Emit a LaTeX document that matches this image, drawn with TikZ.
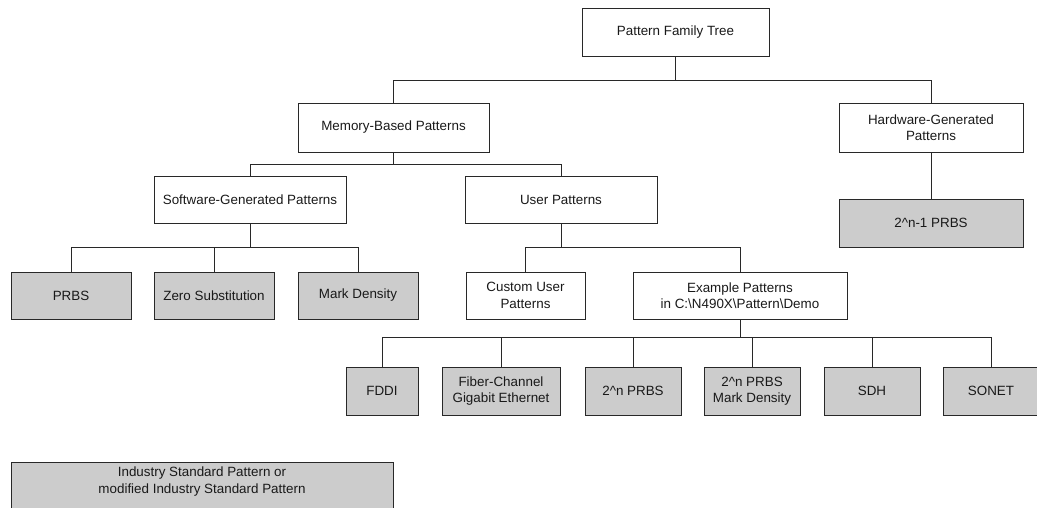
\documentclass[tikz,border=0pt]{standalone}
\usepackage{fontspec}
\setmainfont{Liberation Sans}
\definecolor{boxfill}{RGB}{204,204,204}
\definecolor{edge}{RGB}{40,40,40}
\begin{document}
\begin{tikzpicture}[x=1pt,y=-1pt,
  box/.style={draw=edge,line width=1pt,rectangle,inner sep=0pt,align=center,
    font=\fontsize{13.4}{16.5}\selectfont,text=black!90},
  gbox/.style={box,fill=boxfill},
  conn/.style={draw=edge,line width=1pt}]
\useasboundingbox (0,0) rectangle (1037,507);
% nodes
\node[box,minimum width=187pt,minimum height=48pt] (root) at (675.5,32) {Pattern Family Tree};
\node[box,minimum width=191pt,minimum height=49pt] (mem) at (393.5,127.5) {Memory-Based Patterns};
\node[box,minimum width=184pt,minimum height=49pt] (hw) at (931,127.5) {Hardware-Generated\\Patterns};
\node[gbox,minimum width=184pt,minimum height=48pt] (hwprbs) at (931,223) {2\^{}n-1 PRBS};
\node[box,minimum width=192pt,minimum height=47pt] (sw) at (250,199.5) {Software-Generated Patterns};
\node[box,minimum width=192pt,minimum height=47pt] (user) at (561,199.5) {User Patterns};
\node[gbox,minimum width=120pt,minimum height=47pt] (prbs) at (71,295.5) {PRBS};
\node[gbox,minimum width=120pt,minimum height=47pt] (zero) at (214,295.5) {Zero Substitution};
\node[gbox,minimum width=120pt,minimum height=47pt] (mark) at (358,295.5) {Mark Density};
\node[box,minimum width=119pt,minimum height=47pt] (custom) at (525.5,295.5) {Custom User\\Patterns};
\node[box,minimum width=214pt,minimum height=47pt] (example) at (740,295.5) {Example Patterns\\in C:\textbackslash N490X\textbackslash Pattern\textbackslash Demo};
\node[gbox,minimum width=72pt,minimum height=48pt] (fddi) at (382,391) {FDDI};
\node[gbox,minimum width=118pt,minimum height=48pt] (fiber) at (501,391) {Fiber-Channel\\Gigabit Ethernet};
\node[gbox,minimum width=96pt,minimum height=48pt] (ptwo) at (633,391) {2\^{}n PRBS};
\node[gbox,minimum width=96pt,minimum height=48pt] (ptwomd) at (752,391) {2\^{}n PRBS\\Mark Density};
\node[gbox,minimum width=96pt,minimum height=48pt] (sdh) at (872,391) {SDH};
\node[gbox,minimum width=96pt,minimum height=48pt] (sonet) at (991,391) {SONET};
\node[gbox,minimum width=382pt,minimum height=70pt,anchor=north west] (legend) at (11,462) {};
\node[font=\fontsize{13.4}{16.5}\selectfont,align=center,anchor=north,inner sep=0pt,text=black!90]
  (legendtext) at (202,467) {Industry Standard Pattern or\\modified Industry Standard Pattern};
% bus levels
\coordinate (b1) at (0,80);
\coordinate (b2) at (0,164);
\coordinate (b3) at (0,247);
\coordinate (b4) at (0,247);
\coordinate (b5) at (0,337);
% connectors
\draw[conn] (root.south) -- (root.south |- b1);
\draw[conn] (mem.north) |- (b1 -| hw.north) -- (hw.north);
\draw[conn] (hw.south) -- (hwprbs.north);
\draw[conn] (mem.south) -- (mem.south |- b2);
\draw[conn] (sw.north) |- (b2 -| user.north) -- (user.north);
\draw[conn] (sw.south) -- (sw.south |- b3);
\draw[conn] (prbs.north) |- (b3 -| mark.north) -- (mark.north);
\draw[conn] (zero.north) -- (zero.north |- b3);
\draw[conn] (user.south) -- (user.south |- b4);
\draw[conn] (custom.north) |- (b4 -| example.north) -- (example.north);
\draw[conn] (example.south) -- (example.south |- b5);
\draw[conn] (fddi.north) |- (b5 -| sonet.north) -- (sonet.north);
\draw[conn] (fiber.north) -- (fiber.north |- b5);
\draw[conn] (ptwo.north) -- (ptwo.north |- b5);
\draw[conn] (ptwomd.north) -- (ptwomd.north |- b5);
\draw[conn] (sdh.north) -- (sdh.north |- b5);
\end{tikzpicture}
\end{document}
